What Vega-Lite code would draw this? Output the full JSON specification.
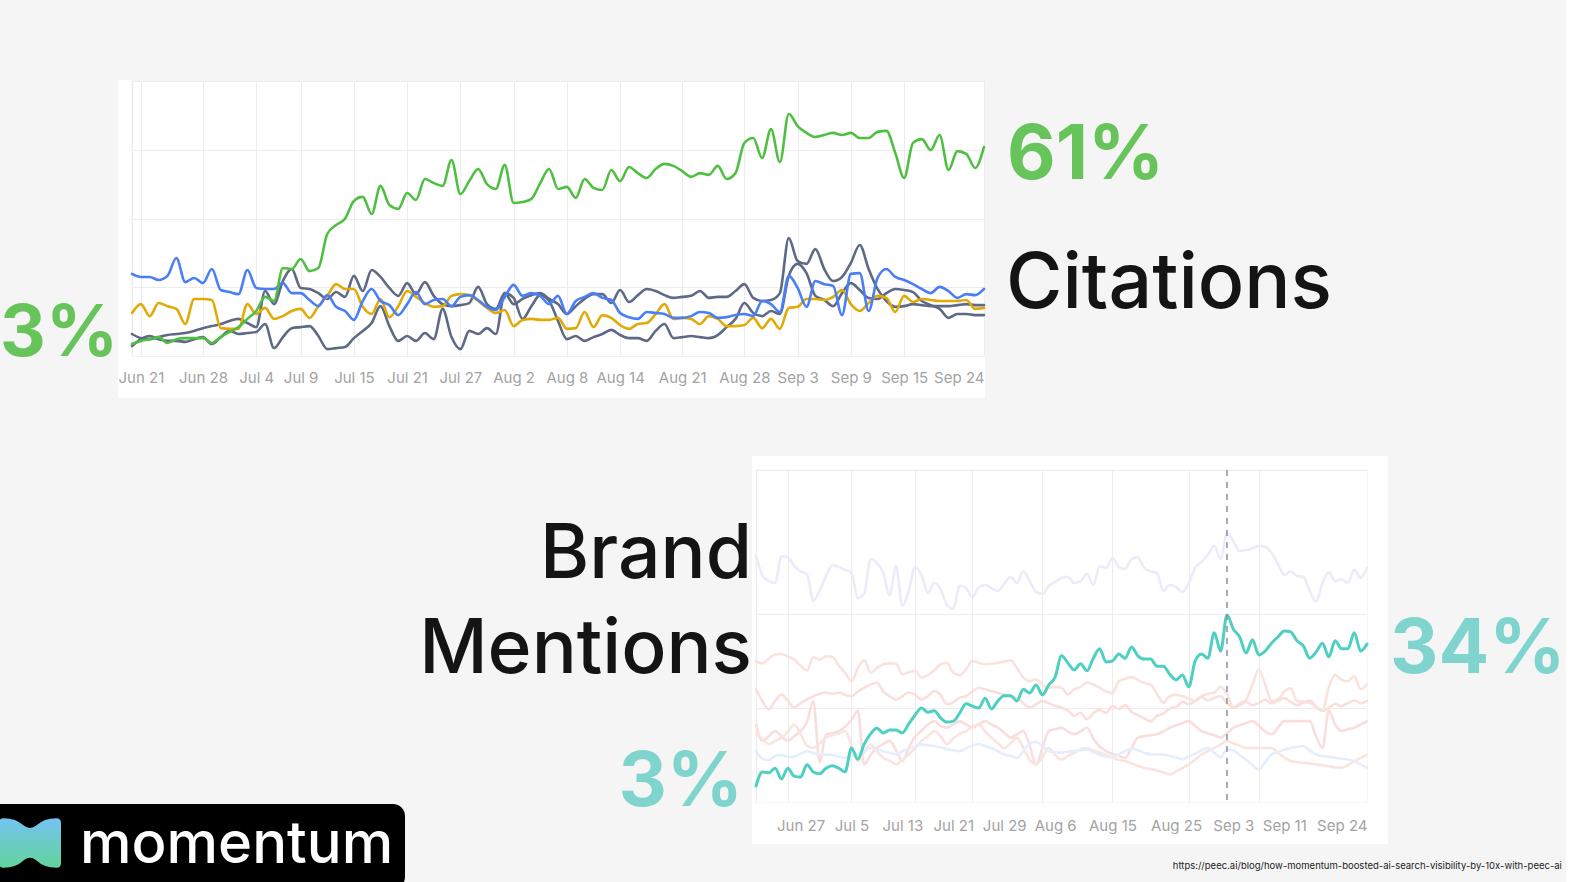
{
  "$schema": "https://vega.github.io/schema/vega-lite/v6.json",
  "background": "#f5f5f5",
  "padding": {"left": -53, "top": 79, "right": 0, "bottom": 0},
  "config": {"font": "Inter", "view": {"stroke": null}},
  "resolve": {"scale": {"color": "independent"}},
  "bounds": "flush",
  "spacing": 114,
  "datasets": {
    "main": [
      {"d":"2025-06-20","g":3.5,"b":23.9,"y":12.5,"s1":6.4,"s2":2.9,"t":3.4,"lav":52.3,"p1":30.0,"p2":24.0,"p3":16.5,"p4":14.4,"lb":10.8},
      {"d":"2025-06-21","g":4.4,"b":23.0,"y":15.1,"s1":5.2,"s2":4.9,"t":6.4,"lav":48.3,"p1":29.5,"p2":21.5,"p3":13.0,"p4":13.5,"lb":9.2},
      {"d":"2025-06-22","g":4.9,"b":23.0,"y":11.6,"s1":4.9,"s2":5.8,"t":6.2,"lav":47.0,"p1":30.5,"p2":19.7,"p3":14.0,"p4":12.3,"lb":8.9},
      {"d":"2025-06-23","g":5.5,"b":22.1,"y":15.4,"s1":5.5,"s2":4.9,"t":7.2,"lav":46.6,"p1":31.4,"p2":21.5,"p3":15.1,"p4":13.0,"lb":9.8},
      {"d":"2025-06-24","g":3.8,"b":23.3,"y":14.5,"s1":6.1,"s2":4.4,"t":4.9,"lav":52.3,"p1":31.5,"p2":22.9,"p3":14.0,"p4":13.7,"lb":10.0},
      {"d":"2025-06-25","g":4.9,"b":28.5,"y":13.7,"s1":6.4,"s2":4.4,"t":7.2,"lav":52.1,"p1":31.0,"p2":21.5,"p3":13.0,"p4":15.0,"lb":9.6},
      {"d":"2025-06-26","g":5.2,"b":21.5,"y":9.3,"s1":6.7,"s2":4.1,"t":5.5,"lav":50.2,"p1":30.3,"p2":20.1,"p3":14.0,"p4":16.5,"lb":9.6},
      {"d":"2025-06-27","g":5.2,"b":22.7,"y":16.6,"s1":7.3,"s2":4.9,"t":5.3,"lav":49.1,"p1":29.0,"p2":21.0,"p3":15.1,"p4":14.5,"lb":10.3},
      {"d":"2025-06-28","g":5.2,"b":21.2,"y":16.6,"s1":8.1,"s2":5.5,"t":7.9,"lav":48.5,"p1":28.0,"p2":21.8,"p3":17.0,"p4":12.0,"lb":10.8},
      {"d":"2025-06-29","g":3.8,"b":25.3,"y":16.3,"s1":8.7,"s2":3.5,"t":6.4,"lav":42.8,"p1":30.8,"p2":22.5,"p3":21.5,"p4":11.5,"lb":10.4},
      {"d":"2025-06-30","g":5.5,"b":19.2,"y":8.1,"s1":9.3,"s2":5.5,"t":6.0,"lav":44.9,"p1":30.3,"p2":23.0,"p3":8.5,"p4":12.5,"lb":10.1},
      {"d":"2025-07-01","g":7.0,"b":18.6,"y":7.9,"s1":10.2,"s2":7.3,"t":7.2,"lav":48.1,"p1":31.0,"p2":23.3,"p3":14.4,"p4":13.7,"lb":10.1},
      {"d":"2025-07-02","g":8.4,"b":18.0,"y":7.9,"s1":10.8,"s2":6.4,"t":7.7,"lav":50.4,"p1":30.9,"p2":23.0,"p3":14.6,"p4":14.2,"lb":10.0},
      {"d":"2025-07-03","g":10.8,"b":25.0,"y":15.1,"s1":9.6,"s2":6.7,"t":7.2,"lav":50.0,"p1":29.0,"p2":23.3,"p3":15.1,"p4":14.6,"lb":9.7},
      {"d":"2025-07-04","g":13.1,"b":19.8,"y":12.2,"s1":8.4,"s2":7.0,"t":6.4,"lav":49.4,"p1":27.5,"p2":22.8,"p3":16.0,"p4":15.1,"lb":9.4},
      {"d":"2025-07-05","g":17.2,"b":19.5,"y":14.0,"s1":18.9,"s2":9.3,"t":11.5,"lav":48.7,"p1":25.7,"p2":22.5,"p3":17.5,"p4":12.0,"lb":9.8},
      {"d":"2025-07-06","g":16.0,"b":19.5,"y":10.8,"s1":15.1,"s2":2.3,"t":9.1,"lav":43.4,"p1":28.5,"p2":23.5,"p3":19.4,"p4":8.7,"lb":10.1},
      {"d":"2025-07-07","g":25.6,"b":21.2,"y":11.6,"s1":21.8,"s2":5.5,"t":12.3,"lav":44.3,"p1":30.2,"p2":24.3,"p3":8.0,"p4":10.5,"lb":10.8},
      {"d":"2025-07-08","g":25.3,"b":18.3,"y":13.1,"s1":25.3,"s2":8.1,"t":14.5,"lav":51.7,"p1":27.5,"p2":25.0,"p3":10.0,"p4":12.3,"lb":11.5},
      {"d":"2025-07-09","g":28.2,"b":18.3,"y":13.7,"s1":19.8,"s2":8.4,"t":15.7,"lav":50.9,"p1":28.5,"p2":25.4,"p3":11.5,"p4":10.8,"lb":11.2},
      {"d":"2025-07-10","g":24.7,"b":16.3,"y":11.1,"s1":19.5,"s2":8.7,"t":14.7,"lav":48.7,"p1":29.3,"p2":23.5,"p3":12.3,"p4":9.4,"lb":10.8},
      {"d":"2025-07-11","g":25.6,"b":14.5,"y":14.5,"s1":18.3,"s2":5.8,"t":15.3,"lav":44.0,"p1":29.5,"p2":22.5,"p3":13.0,"p4":8.8,"lb":10.5},
      {"d":"2025-07-12","g":35.5,"b":17.7,"y":17.5,"s1":16.6,"s2":2.0,"t":15.3,"lav":50.2,"p1":29.4,"p2":21.8,"p3":11.0,"p4":8.0,"lb":10.1},
      {"d":"2025-07-13","g":38.1,"b":14.3,"y":20.9,"s1":18.6,"s2":2.3,"t":14.7,"lav":41.7,"p1":27.2,"p2":22.5,"p3":8.7,"p4":9.0,"lb":10.8},
      {"d":"2025-07-14","g":39.9,"b":13.1,"y":19.5,"s1":17.2,"s2":2.6,"t":16.6,"lav":44.9,"p1":27.6,"p2":23.3,"p3":11.5,"p4":10.1,"lb":11.4},
      {"d":"2025-07-15","g":45.1,"b":10.5,"y":19.5,"s1":23.3,"s2":5.2,"t":18.5,"lav":50.0,"p1":27.9,"p2":22.8,"p3":14.0,"p4":11.5,"lb":11.8},
      {"d":"2025-07-16","g":46.3,"b":16.0,"y":14.3,"s1":18.9,"s2":7.3,"t":20.0,"lav":48.3,"p1":26.5,"p2":21.8,"p3":15.1,"p4":13.0,"lb":12.2},
      {"d":"2025-07-17","g":41.3,"b":19.5,"y":12.2,"s1":25.0,"s2":9.6,"t":19.1,"lav":44.5,"p1":27.0,"p2":22.5,"p3":16.5,"p4":14.0,"lb":12.1},
      {"d":"2025-07-18","g":49.5,"b":16.0,"y":16.6,"s1":23.0,"s2":14.5,"t":19.4,"lav":46.6,"p1":28.0,"p2":23.6,"p3":17.2,"p4":15.1,"lb":11.9},
      {"d":"2025-07-19","g":43.9,"b":14.8,"y":11.3,"s1":19.8,"s2":8.7,"t":17.9,"lav":45.3,"p1":29.3,"p2":22.8,"p3":16.2,"p4":14.0,"lb":11.6},
      {"d":"2025-07-20","g":42.8,"b":11.9,"y":14.5,"s1":17.5,"s2":4.4,"t":17.0,"lav":41.9,"p1":29.6,"p2":20.8,"p3":15.8,"p4":12.3,"lb":11.2},
      {"d":"2025-07-21","g":47.4,"b":15.1,"y":18.9,"s1":21.2,"s2":5.8,"t":17.2,"lav":41.1,"p1":27.5,"p2":21.2,"p3":16.5,"p4":13.5,"lb":11.0},
      {"d":"2025-07-22","g":45.4,"b":18.6,"y":17.2,"s1":18.0,"s2":4.4,"t":18.9,"lav":46.0,"p1":27.0,"p2":22.2,"p3":17.2,"p4":14.5,"lb":10.8},
      {"d":"2025-07-23","g":51.5,"b":15.1,"y":15.4,"s1":21.5,"s2":6.7,"t":20.9,"lav":45.5,"p1":28.2,"p2":22.5,"p3":16.5,"p4":15.1,"lb":11.4},
      {"d":"2025-07-24","g":50.3,"b":16.3,"y":14.3,"s1":17.5,"s2":4.9,"t":20.4,"lav":43.6,"p1":30.0,"p2":23.5,"p3":15.8,"p4":16.0,"lb":12.0},
      {"d":"2025-07-25","g":49.5,"b":16.6,"y":14.5,"s1":15.1,"s2":13.7,"t":20.0,"lav":45.7,"p1":29.6,"p2":24.3,"p3":16.5,"p4":16.5,"lb":12.3},
      {"d":"2025-07-26","g":57.0,"b":14.5,"y":17.5,"s1":14.5,"s2":5.5,"t":22.1,"lav":46.2,"p1":29.3,"p2":24.0,"p3":17.2,"p4":15.0,"lb":11.9},
      {"d":"2025-07-27","g":47.1,"b":17.2,"y":18.0,"s1":14.8,"s2":2.0,"t":19.8,"lav":45.5,"p1":29.4,"p2":23.6,"p3":16.5,"p4":13.7,"lb":11.5},
      {"d":"2025-07-28","g":50.9,"b":17.7,"y":17.7,"s1":15.4,"s2":7.3,"t":21.5,"lav":44.9,"p1":29.6,"p2":23.2,"p3":15.8,"p4":12.5,"lb":10.8},
      {"d":"2025-07-29","g":54.4,"b":16.3,"y":16.0,"s1":20.1,"s2":6.4,"t":22.6,"lav":46.4,"p1":29.9,"p2":22.9,"p3":14.8,"p4":11.5,"lb":10.1},
      {"d":"2025-07-30","g":50.0,"b":14.3,"y":14.0,"s1":15.1,"s2":8.1,"t":22.6,"lav":47.9,"p1":30.1,"p2":22.5,"p3":13.7,"p4":12.5,"lb":9.8},
      {"d":"2025-07-31","g":48.6,"b":13.4,"y":12.5,"s1":13.7,"s2":6.4,"t":21.5,"lav":46.6,"p1":28.5,"p2":22.2,"p3":14.4,"p4":13.7,"lb":9.4},
      {"d":"2025-08-01","g":55.6,"b":17.2,"y":13.4,"s1":18.3,"s2":18.3,"t":24.0,"lav":49.1,"p1":26.5,"p2":21.0,"p3":15.1,"p4":11.5,"lb":10.8},
      {"d":"2025-08-02","g":44.5,"b":20.7,"y":8.7,"s1":15.1,"s2":16.9,"t":23.2,"lav":47.0,"p1":25.7,"p2":20.1,"p3":12.0,"p4":9.0,"lb":12.5},
      {"d":"2025-08-03","g":44.8,"b":17.5,"y":10.5,"s1":16.6,"s2":10.8,"t":24.9,"lav":44.7,"p1":26.1,"p2":20.8,"p3":8.0,"p4":8.0,"lb":12.8},
      {"d":"2025-08-04","g":45.7,"b":18.3,"y":10.8,"s1":17.7,"s2":14.5,"t":22.8,"lav":44.3,"p1":24.8,"p2":21.5,"p3":11.5,"p4":9.5,"lb":11.8},
      {"d":"2025-08-05","g":50.3,"b":17.5,"y":10.5,"s1":18.3,"s2":17.7,"t":24.9,"lav":46.0,"p1":24.3,"p2":21.0,"p3":15.1,"p4":11.5,"lb":10.8},
      {"d":"2025-08-06","g":54.4,"b":15.1,"y":10.5,"s1":16.6,"s2":16.0,"t":26.6,"lav":46.8,"p1":24.5,"p2":20.5,"p3":15.5,"p4":10.0,"lb":10.6},
      {"d":"2025-08-07","g":48.6,"b":17.5,"y":11.1,"s1":15.1,"s2":10.2,"t":31.1,"lav":47.7,"p1":24.3,"p2":20.1,"p3":15.8,"p4":9.0,"lb":10.5},
      {"d":"2025-08-08","g":49.2,"b":12.2,"y":7.9,"s1":12.2,"s2":4.9,"t":29.6,"lav":47.9,"p1":22.9,"p2":19.5,"p3":15.0,"p4":9.8,"lb":10.7},
      {"d":"2025-08-09","g":46.0,"b":16.0,"y":8.1,"s1":14.5,"s2":5.8,"t":28.1,"lav":46.6,"p1":24.0,"p2":18.3,"p3":14.4,"p4":10.5,"lb":10.9},
      {"d":"2025-08-10","g":51.5,"b":17.2,"y":12.8,"s1":16.6,"s2":4.4,"t":29.4,"lav":47.0,"p1":24.5,"p2":19.0,"p3":15.0,"p4":11.2,"lb":11.0},
      {"d":"2025-08-11","g":48.9,"b":18.3,"y":8.4,"s1":18.0,"s2":5.5,"t":27.9,"lav":48.5,"p1":25.4,"p2":17.6,"p3":15.8,"p4":11.5,"lb":11.2},
      {"d":"2025-08-12","g":48.3,"b":16.9,"y":11.9,"s1":18.0,"s2":6.4,"t":30.6,"lav":46.2,"p1":25.0,"p2":18.9,"p3":13.5,"p4":11.0,"lb":10.6},
      {"d":"2025-08-13","g":54.1,"b":16.3,"y":11.1,"s1":15.4,"s2":7.6,"t":32.6,"lav":50.2,"p1":24.3,"p2":19.6,"p3":11.8,"p4":10.5,"lb":10.0},
      {"d":"2025-08-14","g":50.9,"b":12.5,"y":9.0,"s1":19.2,"s2":6.1,"t":29.8,"lav":49.8,"p1":23.5,"p2":19.0,"p3":10.8,"p4":10.0,"lb":9.6},
      {"d":"2025-08-15","g":55.0,"b":11.3,"y":7.9,"s1":15.7,"s2":5.2,"t":30.0,"lav":51.9,"p1":23.2,"p2":20.4,"p3":10.2,"p4":9.5,"lb":9.5},
      {"d":"2025-08-16","g":53.2,"b":10.8,"y":9.3,"s1":17.7,"s2":5.2,"t":31.5,"lav":50.0,"p1":25.7,"p2":19.8,"p3":9.8,"p4":9.0,"lb":10.2},
      {"d":"2025-08-17","g":51.8,"b":12.8,"y":9.6,"s1":19.5,"s2":4.4,"t":30.6,"lav":49.6,"p1":26.2,"p2":20.6,"p3":9.4,"p4":8.7,"lb":10.8},
      {"d":"2025-08-18","g":54.4,"b":12.5,"y":12.2,"s1":18.9,"s2":7.3,"t":33.0,"lav":51.7,"p1":26.6,"p2":19.2,"p3":11.5,"p4":8.2,"lb":11.4},
      {"d":"2025-08-19","g":55.9,"b":12.2,"y":15.1,"s1":17.7,"s2":9.3,"t":31.1,"lav":52.1,"p1":26.0,"p2":18.5,"p3":13.7,"p4":7.7,"lb":11.0},
      {"d":"2025-08-20","g":55.3,"b":11.1,"y":10.8,"s1":16.9,"s2":5.2,"t":30.4,"lav":49.8,"p1":25.3,"p2":17.8,"p3":14.0,"p4":7.3,"lb":10.5},
      {"d":"2025-08-21","g":53.8,"b":11.1,"y":11.1,"s1":17.2,"s2":5.5,"t":30.4,"lav":49.1,"p1":25.0,"p2":17.2,"p3":14.2,"p4":7.0,"lb":10.1},
      {"d":"2025-08-22","g":52.1,"b":11.6,"y":10.8,"s1":17.5,"s2":5.8,"t":28.9,"lav":48.7,"p1":23.0,"p2":18.3,"p3":14.4,"p4":6.7,"lb":10.1},
      {"d":"2025-08-23","g":53.2,"b":12.8,"y":9.3,"s1":18.9,"s2":5.5,"t":28.9,"lav":44.9,"p1":21.1,"p2":18.8,"p3":15.0,"p4":6.3,"lb":10.1},
      {"d":"2025-08-24","g":52.7,"b":12.5,"y":11.6,"s1":16.9,"s2":5.2,"t":27.2,"lav":46.2,"p1":22.5,"p2":19.9,"p3":15.8,"p4":5.9,"lb":9.8},
      {"d":"2025-08-25","g":55.3,"b":11.1,"y":10.8,"s1":17.2,"s2":6.1,"t":26.0,"lav":45.7,"p1":22.8,"p2":20.2,"p3":16.3,"p4":6.5,"lb":9.5},
      {"d":"2025-08-26","g":51.5,"b":11.3,"y":8.7,"s1":17.2,"s2":8.4,"t":27.0,"lav":44.7,"p1":22.5,"p2":21.3,"p3":16.8,"p4":7.2,"lb":9.1},
      {"d":"2025-08-27","g":53.2,"b":11.9,"y":8.7,"s1":18.9,"s2":10.8,"t":24.5,"lav":46.6,"p1":22.0,"p2":20.8,"p3":17.2,"p4":8.0,"lb":9.7},
      {"d":"2025-08-28","g":62.0,"b":12.2,"y":9.0,"s1":20.9,"s2":15.4,"t":30.0,"lav":49.8,"p1":21.5,"p2":21.5,"p3":16.2,"p4":9.0,"lb":10.3},
      {"d":"2025-08-29","g":63.4,"b":11.6,"y":11.1,"s1":16.9,"s2":12.5,"t":31.5,"lav":51.1,"p1":22.5,"p2":22.3,"p3":15.1,"p4":10.1,"lb":11.0},
      {"d":"2025-08-30","g":57.6,"b":16.0,"y":8.1,"s1":16.0,"s2":11.6,"t":30.6,"lav":52.6,"p1":23.0,"p2":21.6,"p3":14.6,"p4":10.8,"lb":11.5},
      {"d":"2025-08-31","g":66.0,"b":15.1,"y":10.8,"s1":16.3,"s2":13.1,"t":36.0,"lav":54.5,"p1":23.3,"p2":22.2,"p3":14.2,"p4":11.5,"lb":10.5},
      {"d":"2025-09-01","g":56.4,"b":12.8,"y":7.9,"s1":18.3,"s2":12.2,"t":32.1,"lav":51.7,"p1":24.5,"p2":22.5,"p3":13.7,"p4":12.2,"lb":9.5},
      {"d":"2025-09-02","g":70.4,"b":23.3,"y":14.0,"s1":34.3,"s2":23.3,"t":39.8,"lav":57.2,"p1":23.0,"p2":21.0,"p3":14.6,"p4":13.0,"lb":11.2},
      {"d":"2025-09-03","g":66.9,"b":19.8,"y":14.3,"s1":27.6,"s2":26.8,"t":36.8,"lav":55.5,"p1":20.1,"p2":20.1,"p3":15.8,"p4":12.5,"lb":11.0},
      {"d":"2025-09-04","g":64.9,"b":14.3,"y":16.6,"s1":26.8,"s2":24.1,"t":35.1,"lav":53.4,"p1":21.0,"p2":20.5,"p3":16.3,"p4":12.0,"lb":10.0},
      {"d":"2025-09-05","g":63.7,"b":21.8,"y":16.6,"s1":31.1,"s2":17.5,"t":31.7,"lav":53.6,"p1":21.8,"p2":21.3,"p3":16.8,"p4":11.5,"lb":9.0},
      {"d":"2025-09-06","g":64.3,"b":20.9,"y":16.3,"s1":25.3,"s2":16.3,"t":34.5,"lav":54.0,"p1":25.0,"p2":20.6,"p3":17.2,"p4":11.5,"lb":7.8},
      {"d":"2025-09-07","g":64.9,"b":20.4,"y":17.2,"s1":21.8,"s2":14.5,"t":31.3,"lav":54.5,"p1":28.2,"p2":21.1,"p3":16.2,"p4":11.5,"lb":6.9},
      {"d":"2025-09-08","g":64.3,"b":11.9,"y":19.2,"s1":23.0,"s2":18.3,"t":32.1,"lav":54.3,"p1":25.0,"p2":21.8,"p3":15.0,"p4":11.5,"lb":8.5},
      {"d":"2025-09-09","g":64.9,"b":23.9,"y":15.1,"s1":27.1,"s2":21.2,"t":33.8,"lav":53.0,"p1":21.5,"p2":21.0,"p3":14.4,"p4":11.5,"lb":10.1},
      {"d":"2025-09-10","g":63.4,"b":24.1,"y":13.1,"s1":32.3,"s2":19.2,"t":35.1,"lav":50.6,"p1":21.8,"p2":21.5,"p3":15.8,"p4":10.5,"lb":10.6},
      {"d":"2025-09-11","g":63.4,"b":13.1,"y":15.4,"s1":25.3,"s2":16.9,"t":36.4,"lav":48.3,"p1":23.5,"p2":22.1,"p3":17.2,"p4":9.5,"lb":11.1},
      {"d":"2025-09-12","g":65.2,"b":22.7,"y":17.5,"s1":19.5,"s2":16.6,"t":36.2,"lav":49.1,"p1":24.2,"p2":21.3,"p3":17.2,"p4":8.7,"lb":11.5},
      {"d":"2025-09-13","g":65.5,"b":25.3,"y":16.9,"s1":16.0,"s2":18.3,"t":34.3,"lav":48.1,"p1":21.5,"p2":20.6,"p3":17.2,"p4":8.5,"lb":11.7},
      {"d":"2025-09-14","g":59.1,"b":23.0,"y":12.8,"s1":14.3,"s2":19.5,"t":33.2,"lav":47.9,"p1":21.3,"p2":21.1,"p3":17.2,"p4":8.3,"lb":11.9},
      {"d":"2025-09-15","g":51.8,"b":22.1,"y":17.5,"s1":14.5,"s2":19.2,"t":30.6,"lav":44.9,"p1":21.1,"p2":21.6,"p3":17.2,"p4":8.2,"lb":11.0},
      {"d":"2025-09-16","g":62.0,"b":20.9,"y":15.7,"s1":15.1,"s2":18.6,"t":31.9,"lav":42.6,"p1":20.2,"p2":20.3,"p3":14.0,"p4":8.0,"lb":10.1},
      {"d":"2025-09-17","g":63.1,"b":19.5,"y":16.6,"s1":14.8,"s2":16.0,"t":33.8,"lav":46.6,"p1":19.4,"p2":19.4,"p3":11.5,"p4":7.8,"lb":9.8},
      {"d":"2025-09-18","g":59.9,"b":18.3,"y":16.3,"s1":14.5,"s2":14.8,"t":30.9,"lav":48.9,"p1":24.5,"p2":20.0,"p3":19.4,"p4":7.6,"lb":9.6},
      {"d":"2025-09-19","g":64.3,"b":20.1,"y":16.0,"s1":14.5,"s2":13.7,"t":34.3,"lav":47.0,"p1":27.0,"p2":20.9,"p3":16.5,"p4":7.4,"lb":9.4},
      {"d":"2025-09-20","g":54.1,"b":18.9,"y":16.0,"s1":14.5,"s2":11.1,"t":32.6,"lav":47.4,"p1":26.0,"p2":20.4,"p3":15.1,"p4":7.3,"lb":9.2},
      {"d":"2025-09-21","g":59.6,"b":16.9,"y":16.0,"s1":14.8,"s2":12.2,"t":32.6,"lav":46.6,"p1":25.7,"p2":21.0,"p3":15.5,"p4":7.8,"lb":9.0},
      {"d":"2025-09-22","g":58.8,"b":18.0,"y":16.3,"s1":15.1,"s2":12.2,"t":36.0,"lav":49.4,"p1":26.8,"p2":21.6,"p3":15.8,"p4":8.7,"lb":8.7},
      {"d":"2025-09-23","g":54.7,"b":17.7,"y":13.7,"s1":14.8,"s2":11.9,"t":32.1,"lav":47.7,"p1":24.0,"p2":21.0,"p3":16.5,"p4":9.4,"lb":8.0},
      {"d":"2025-09-24","g":60.8,"b":19.5,"y":14.0,"s1":14.8,"s2":11.9,"t":33.6,"lav":49.8,"p1":25.0,"p2":21.5,"p3":17.2,"p4":10.1,"lb":7.3}
    ]
  },
  "vconcat": [
    {
      "width": 852,
      "height": 275,
      "view": {"fill": "white", "stroke": "#ececec", "strokeWidth": 1},
      "resolve": {"axis": {"x": "independent", "y": "independent"}},
      "layer": [
        {
          "data": {"values": [{}]},
          "mark": {"type": "rect", "fill": "white"},
          "encoding": {
            "x": {"datum": {"year": 2025, "month": 6, "date": 18, "hours": 10, "utc": true}, "type": "temporal", "scale": {"type": "utc", "nice": false, "domain": [{"year": 2025, "month": 6, "date": 20, "utc": true}, {"year": 2025, "month": 9, "date": 24, "utc": true}]}, "axis": null},
            "x2": {"datum": {"year": 2025, "month": 6, "date": 19, "hours": 22, "utc": true}},
            "y": {"datum": 80.3, "type": "quantitative", "scale": {"domain": [0, 80], "nice": false, "zero": false}, "axis": null},
            "y2": {"datum": -12.2}
          }
        },
        {
          "data": {"values": [{}]},
          "mark": {"type": "rect", "fill": "white"},
          "encoding": {
            "x": {
              "datum": {"year": 2025, "month": 6, "date": 18, "hours": 10, "utc": true}, "type": "temporal",
              "scale": {"type": "utc", "nice": false, "domain": [{"year": 2025, "month": 6, "date": 20, "utc": true}, {"year": 2025, "month": 9, "date": 24, "utc": true}]},
              "axis": {
                "orient": "bottom", "title": null, "grid": true, "gridColor": "#ececec", "gridWidth": 1, "labels": false, "ticks": false, "domain": false, "zindex": 0,
                "values": [
                  {"year": 2025, "month": 6, "date": 21, "utc": true},
                  {"year": 2025, "month": 6, "date": 28, "utc": true},
                  {"year": 2025, "month": 7, "date": 4, "utc": true},
                  {"year": 2025, "month": 7, "date": 9, "utc": true},
                  {"year": 2025, "month": 7, "date": 15, "utc": true},
                  {"year": 2025, "month": 7, "date": 21, "utc": true},
                  {"year": 2025, "month": 7, "date": 27, "utc": true},
                  {"year": 2025, "month": 8, "date": 2, "utc": true},
                  {"year": 2025, "month": 8, "date": 8, "utc": true},
                  {"year": 2025, "month": 8, "date": 14, "utc": true},
                  {"year": 2025, "month": 8, "date": 21, "utc": true},
                  {"year": 2025, "month": 8, "date": 28, "utc": true},
                  {"year": 2025, "month": 9, "date": 3, "utc": true},
                  {"year": 2025, "month": 9, "date": 9, "utc": true},
                  {"year": 2025, "month": 9, "date": 15, "utc": true}
                ]
              }
            },
            "x2": {"datum": {"year": 2025, "month": 9, "date": 24, "hours": 3, "utc": true}},
            "y": {
              "datum": -0.2, "type": "quantitative",
              "scale": {"domain": [0, 80], "nice": false, "zero": false},
              "axis": {"orient": "left", "values": [20, 40, 60], "grid": true, "gridColor": "#ececec", "labels": false, "ticks": false, "domain": false, "title": null, "zindex": 0}
            },
            "y2": {"datum": -12.2}
          }
        },
        {
          "data": {"name": "main"},
          "transform": [{"fold": ["s2", "s1", "y", "b", "g"], "as": ["series", "value"]}],
          "mark": {"type": "line", "interpolate": "monotone", "strokeWidth": 2.6, "strokeCap": "round", "strokeJoin": "round"},
          "encoding": {
            "x": {
              "field": "d", "type": "temporal",
              "scale": {"type": "utc", "nice": false, "domain": [{"year": 2025, "month": 6, "date": 20, "utc": true}, {"year": 2025, "month": 9, "date": 24, "utc": true}]},
              "axis": {
                "orient": "bottom", "title": null, "format": "%b %-d", "grid": false,
                "ticks": false, "domain": false, "labelColor": "#a3a3a3", "labelFont": "Inter", "labelFontSize": 15,
                "labelPadding": 14, "labelFlush": true, "labelOverlap": false, "zindex": 1,
                "values": [
                  {"year": 2025, "month": 6, "date": 21, "utc": true},
                  {"year": 2025, "month": 6, "date": 28, "utc": true},
                  {"year": 2025, "month": 7, "date": 4, "utc": true},
                  {"year": 2025, "month": 7, "date": 9, "utc": true},
                  {"year": 2025, "month": 7, "date": 15, "utc": true},
                  {"year": 2025, "month": 7, "date": 21, "utc": true},
                  {"year": 2025, "month": 7, "date": 27, "utc": true},
                  {"year": 2025, "month": 8, "date": 2, "utc": true},
                  {"year": 2025, "month": 8, "date": 8, "utc": true},
                  {"year": 2025, "month": 8, "date": 14, "utc": true},
                  {"year": 2025, "month": 8, "date": 21, "utc": true},
                  {"year": 2025, "month": 8, "date": 28, "utc": true},
                  {"year": 2025, "month": 9, "date": 3, "utc": true},
                  {"year": 2025, "month": 9, "date": 9, "utc": true},
                  {"year": 2025, "month": 9, "date": 15, "utc": true},
                  {"year": 2025, "month": 9, "date": 24, "utc": true}
                ]
              }
            },
            "y": {"field": "value", "type": "quantitative", "scale": {"domain": [0, 80], "nice": false, "zero": false}, "axis": null},
            "color": {
              "field": "series", "type": "nominal", "legend": null,
              "scale": {"domain": ["s2", "s1", "y", "b", "g"], "range": ["#5e6985", "#5e6985", "#e2aa08", "#4a7ef6", "#4fbf42"]}
            }
          }
        },
        {
          "data": {"values": [{}]},
          "mark": {"type": "text", "text": "3%", "align": "right", "baseline": "alphabetic", "dx": -14, "font": "Inter", "fontSize": 71, "fontWeight": 700, "color": "#67c45b"},
          "encoding": {
            "x": {"datum": {"year": 2025, "month": 6, "date": 20, "utc": true}, "type": "temporal", "scale": {"type": "utc", "nice": false, "domain": [{"year": 2025, "month": 6, "date": 20, "utc": true}, {"year": 2025, "month": 9, "date": 24, "utc": true}]}, "axis": null},
            "y": {"datum": 0, "type": "quantitative", "scale": {"domain": [0, 80], "nice": false, "zero": false}, "axis": null}
          }
        },
        {
          "data": {"values": [{}]},
          "mark": {"type": "text", "text": "61%", "align": "left", "baseline": "alphabetic", "dx": 23, "font": "Inter", "fontSize": 75, "fontWeight": 700, "color": "#67c45b"},
          "encoding": {
            "x": {"datum": {"year": 2025, "month": 9, "date": 24, "utc": true}, "type": "temporal", "scale": {"type": "utc", "nice": false, "domain": [{"year": 2025, "month": 6, "date": 20, "utc": true}, {"year": 2025, "month": 9, "date": 24, "utc": true}]}, "axis": null},
            "y": {"datum": 51.5, "type": "quantitative", "scale": {"domain": [0, 80], "nice": false, "zero": false}, "axis": null}
          }
        },
        {
          "data": {"values": [{}]},
          "mark": {"type": "text", "text": "Citations", "align": "left", "baseline": "alphabetic", "dx": 22, "font": "Inter", "fontSize": 77, "fontWeight": 500, "color": "#141414"},
          "encoding": {
            "x": {"datum": {"year": 2025, "month": 9, "date": 24, "utc": true}, "type": "temporal", "scale": {"type": "utc", "nice": false, "domain": [{"year": 2025, "month": 6, "date": 20, "utc": true}, {"year": 2025, "month": 9, "date": 24, "utc": true}]}, "axis": null},
            "y": {"datum": 14.0, "type": "quantitative", "scale": {"domain": [0, 80], "nice": false, "zero": false}, "axis": null}
          }
        }
      ]
    },
    {
      "bounds": "flush",
      "spacing": 0,
      "resolve": {"scale": {"color": "independent"}},
      "hconcat": [
        {
          "width": 624,
          "height": 1,
          "data": {"values": []},
          "mark": {"type": "rect", "opacity": 0}
        },
        {
          "width": 611,
          "height": 332,
          "view": {"fill": "white", "stroke": "#ececec", "strokeWidth": 1},
          "resolve": {"axis": {"x": "independent", "y": "independent"}},
          "layer": [
            {
              "data": {"values": [{}]},
              "mark": {"type": "rect", "fill": "white"},
              "encoding": {
                "x": {
                  "datum": {"year": 2025, "month": 6, "date": 19, "hours": 9, "utc": true}, "type": "temporal",
                  "scale": {"type": "utc", "nice": false, "domain": [{"year": 2025, "month": 6, "date": 20, "utc": true}, {"year": 2025, "month": 9, "date": 24, "utc": true}]},
                  "axis": {
                    "orient": "bottom", "title": null, "grid": true, "gridColor": "#ececec", "gridWidth": 1, "labels": false, "ticks": false, "domain": false, "zindex": 0,
                    "values": [
                      {"year": 2025, "month": 6, "date": 25, "utc": true},
                      {"year": 2025, "month": 7, "date": 5, "utc": true},
                      {"year": 2025, "month": 7, "date": 15, "utc": true},
                      {"year": 2025, "month": 7, "date": 24, "utc": true},
                      {"year": 2025, "month": 8, "date": 4, "utc": true},
                      {"year": 2025, "month": 8, "date": 15, "utc": true},
                      {"year": 2025, "month": 8, "date": 27, "utc": true},
                      {"year": 2025, "month": 9, "date": 7, "utc": true}
                    ]
                  }
                },
                "x2": {"datum": {"year": 2025, "month": 9, "date": 27, "hours": 7, "utc": true}},
                "y": {
                  "datum": 73.6, "type": "quantitative",
                  "scale": {"domain": [0, 70.64], "nice": false, "zero": false},
                  "axis": {"orient": "left", "values": [20, 40], "grid": true, "gridColor": "#ececec", "labels": false, "ticks": false, "domain": false, "title": null, "zindex": 0}
                },
                "y2": {"datum": 70.72}
              }
            },
            {
              "data": {"values": [{}]},
              "mark": {"type": "rect", "fill": "white"},
              "encoding": {
                "x": {"datum": {"year": 2025, "month": 6, "date": 19, "hours": 9, "utc": true}, "type": "temporal", "scale": {"type": "utc", "nice": false, "domain": [{"year": 2025, "month": 6, "date": 20, "utc": true}, {"year": 2025, "month": 9, "date": 24, "utc": true}]}, "axis": null},
                "x2": {"datum": {"year": 2025, "month": 9, "date": 27, "hours": 7, "utc": true}},
                "y": {"datum": -0.12, "type": "quantitative", "scale": {"domain": [0, 70.64], "nice": false, "zero": false}, "axis": null},
                "y2": {"datum": -8.94}
              }
            },
            {
              "data": {"values": [{}]},
              "mark": {"type": "rect", "fill": "white"},
              "encoding": {
                "x": {"datum": {"year": 2025, "month": 6, "date": 19, "hours": 9, "utc": true}, "type": "temporal", "scale": {"type": "utc", "nice": false, "domain": [{"year": 2025, "month": 6, "date": 20, "utc": true}, {"year": 2025, "month": 9, "date": 24, "utc": true}]}, "axis": null},
                "x2": {"datum": {"year": 2025, "month": 6, "date": 19, "hours": 22, "utc": true}},
                "y": {"datum": 73.6, "type": "quantitative", "scale": {"domain": [0, 70.64], "nice": false, "zero": false}, "axis": null},
                "y2": {"datum": -8.94}
              }
            },
            {
              "data": {"values": [{}]},
              "mark": {"type": "rect", "fill": "white"},
              "encoding": {
                "x": {"datum": {"year": 2025, "month": 9, "date": 24, "hours": 2, "utc": true}, "type": "temporal", "scale": {"type": "utc", "nice": false, "domain": [{"year": 2025, "month": 6, "date": 20, "utc": true}, {"year": 2025, "month": 9, "date": 24, "utc": true}]}, "axis": null},
                "x2": {"datum": {"year": 2025, "month": 9, "date": 27, "hours": 7, "utc": true}},
                "y": {"datum": 73.6, "type": "quantitative", "scale": {"domain": [0, 70.64], "nice": false, "zero": false}, "axis": null},
                "y2": {"datum": -8.94}
              }
            },
            {
              "data": {"name": "main"},
              "transform": [{"fold": ["lav", "p1", "p2", "p3", "p4", "lb"], "as": ["bseries", "bvalue"]}],
              "mark": {"type": "line", "interpolate": "monotone", "strokeWidth": 2.6, "strokeCap": "round", "strokeJoin": "round"},
              "encoding": {
                "x": {"field": "d", "type": "temporal", "scale": {"type": "utc", "nice": false, "domain": [{"year": 2025, "month": 6, "date": 20, "utc": true}, {"year": 2025, "month": 9, "date": 24, "utc": true}]}, "axis": null},
                "y": {"field": "bvalue", "type": "quantitative", "scale": {"domain": [0, 70.64], "nice": false, "zero": false}, "axis": null},
                "color": {
                  "field": "bseries", "type": "nominal", "legend": null,
                  "scale": {"domain": ["lav", "p1", "p2", "p3", "p4", "lb"], "range": ["#ecebfa", "#f9e3de", "#f9e0dc", "#f8dedd", "#f9e4e0", "#e6eefb"]}
                }
              }
            },
            {
              "data": {"name": "main"},
              "mark": {"type": "line", "interpolate": "monotone", "strokeWidth": 3, "strokeCap": "round", "strokeJoin": "round", "color": "#4dcfc2"},
              "encoding": {
                "x": {
                  "field": "d", "type": "temporal",
                  "scale": {"type": "utc", "nice": false, "domain": [{"year": 2025, "month": 6, "date": 20, "utc": true}, {"year": 2025, "month": 9, "date": 24, "utc": true}]},
                  "axis": {
                    "orient": "bottom", "title": null, "format": "%b %-d", "grid": false, "ticks": false, "domain": false,
                    "labelColor": "#a3a3a3", "labelFont": "Inter", "labelFontSize": 15, "labelPadding": 16,
                    "labelFlush": true, "labelOverlap": false, "zindex": 1,
                    "values": [
                      {"year": 2025, "month": 6, "date": 27, "utc": true},
                      {"year": 2025, "month": 7, "date": 5, "utc": true},
                      {"year": 2025, "month": 7, "date": 13, "utc": true},
                      {"year": 2025, "month": 7, "date": 21, "utc": true},
                      {"year": 2025, "month": 7, "date": 29, "utc": true},
                      {"year": 2025, "month": 8, "date": 6, "utc": true},
                      {"year": 2025, "month": 8, "date": 15, "utc": true},
                      {"year": 2025, "month": 8, "date": 25, "utc": true},
                      {"year": 2025, "month": 9, "date": 3, "utc": true},
                      {"year": 2025, "month": 9, "date": 11, "utc": true},
                      {"year": 2025, "month": 9, "date": 24, "utc": true}
                    ]
                  }
                },
                "y": {"field": "t", "type": "quantitative", "scale": {"domain": [0, 70.64], "nice": false, "zero": false}, "axis": null}
              }
            },
            {
              "data": {"values": [{}]},
              "mark": {"type": "rule", "color": "#8e8ea6", "strokeDash": [6, 6], "strokeWidth": 1.5},
              "encoding": {
                "x": {"datum": {"year": 2025, "month": 9, "date": 2, "utc": true}, "type": "temporal", "scale": {"type": "utc", "nice": false, "domain": [{"year": 2025, "month": 6, "date": 20, "utc": true}, {"year": 2025, "month": 9, "date": 24, "utc": true}]}, "axis": null}
              }
            },
            {
              "data": {"values": [{}]},
              "mark": {"type": "text", "text": "34%", "align": "left", "baseline": "alphabetic", "dx": 23, "font": "Inter", "fontSize": 75, "fontWeight": 700, "color": "#7fd5ce"},
              "encoding": {
                "x": {"datum": {"year": 2025, "month": 9, "date": 24, "utc": true}, "type": "temporal", "scale": {"type": "utc", "nice": false, "domain": [{"year": 2025, "month": 6, "date": 20, "utc": true}, {"year": 2025, "month": 9, "date": 24, "utc": true}]}, "axis": null},
                "y": {"datum": 27.45, "type": "quantitative", "scale": {"domain": [0, 70.64], "nice": false, "zero": false}, "axis": null}
              }
            },
            {
              "data": {"values": [{}]},
              "mark": {"type": "text", "text": "3%", "align": "right", "baseline": "alphabetic", "dx": -13, "font": "Inter", "fontSize": 75, "fontWeight": 700, "color": "#7fd5ce"},
              "encoding": {
                "x": {"datum": {"year": 2025, "month": 6, "date": 20, "utc": true}, "type": "temporal", "scale": {"type": "utc", "nice": false, "domain": [{"year": 2025, "month": 6, "date": 20, "utc": true}, {"year": 2025, "month": 9, "date": 24, "utc": true}]}, "axis": null},
                "y": {"datum": -0.85, "type": "quantitative", "scale": {"domain": [0, 70.64], "nice": false, "zero": false}, "axis": null}
              }
            },
            {
              "data": {"values": [{}]},
              "mark": {"type": "text", "text": "Brand", "align": "right", "baseline": "alphabetic", "dx": -4, "font": "Inter", "fontSize": 75, "fontWeight": 500, "color": "#141414"},
              "encoding": {
                "x": {"datum": {"year": 2025, "month": 6, "date": 20, "utc": true}, "type": "temporal", "scale": {"type": "utc", "nice": false, "domain": [{"year": 2025, "month": 6, "date": 20, "utc": true}, {"year": 2025, "month": 9, "date": 24, "utc": true}]}, "axis": null},
                "y": {"datum": 47.66, "type": "quantitative", "scale": {"domain": [0, 70.64], "nice": false, "zero": false}, "axis": null}
              }
            },
            {
              "data": {"values": [{}]},
              "mark": {"type": "text", "text": "Mentions", "align": "right", "baseline": "alphabetic", "dx": -4, "font": "Inter", "fontSize": 75, "fontWeight": 500, "color": "#141414"},
              "encoding": {
                "x": {"datum": {"year": 2025, "month": 6, "date": 20, "utc": true}, "type": "temporal", "scale": {"type": "utc", "nice": false, "domain": [{"year": 2025, "month": 6, "date": 20, "utc": true}, {"year": 2025, "month": 9, "date": 24, "utc": true}]}, "axis": null},
                "y": {"datum": 27.45, "type": "quantitative", "scale": {"domain": [0, 70.64], "nice": false, "zero": false}, "axis": null}
              }
            },
            {
              "data": {"values": [{}]},
              "mark": {"type": "rect", "fill": "#000000", "cornerRadiusTopRight": 12, "cornerRadiusBottomRight": 12},
              "encoding": {
                "x": {"datum": {"year": 2025, "month": 2, "date": 13, "utc": true}, "type": "temporal", "scale": {"type": "utc", "nice": false, "domain": [{"year": 2025, "month": 6, "date": 20, "utc": true}, {"year": 2025, "month": 9, "date": 24, "utc": true}]}, "axis": null},
                "x2": {"datum": {"year": 2025, "month": 4, "date": 25, "hours": 20, "minutes": 24, "utc": true}},
                "y": {"datum": -0.43, "type": "quantitative", "scale": {"domain": [0, 70.64], "nice": false, "zero": false}, "axis": null},
                "y2": {"datum": -18.5}
              }
            },
            {
              "data": {"values": [{}]},
              "mark": {
                "type": "point", "filled": true, "size": 3844, "strokeWidth": 0, "opacity": 1,
                "shape": "M -0.85 -0.8 Q -0.45 -0.8 -0.2 -0.56 Q 0 -0.4 0.2 -0.56 Q 0.45 -0.8 0.85 -0.8 Q 1 -0.8 1 -0.65 L 1 0.65 Q 1 0.8 0.85 0.8 Q 0.45 0.8 0.2 0.56 Q 0 0.4 -0.2 0.56 Q -0.45 0.8 -0.85 0.8 Q -1 0.8 -1 0.65 L -1 -0.65 Q -1 -0.8 -0.85 -0.8 Z",
                "fill": {"gradient": "linear", "x1": 0, "y1": 0, "x2": 0, "y2": 1, "stops": [{"offset": 0, "color": "#74c3f0"}, {"offset": 1, "color": "#62d49c"}]}
              },
              "encoding": {
                "x": {"datum": {"year": 2025, "month": 2, "date": 25, "hours": 22, "minutes": 19, "utc": true}, "type": "temporal", "scale": {"type": "utc", "nice": false, "domain": [{"year": 2025, "month": 6, "date": 20, "utc": true}, {"year": 2025, "month": 9, "date": 24, "utc": true}]}, "axis": null},
                "y": {"datum": -8.72, "type": "quantitative", "scale": {"domain": [0, 70.64], "nice": false, "zero": false}, "axis": null}
              }
            },
            {
              "data": {"values": [{}]},
              "mark": {"type": "text", "text": "momentum", "align": "left", "baseline": "alphabetic", "font": "Inter", "fontSize": 58, "fontWeight": 500, "color": "#ffffff"},
              "encoding": {
                "x": {"datum": {"year": 2025, "month": 3, "date": 5, "hours": 19, "utc": true}, "type": "temporal", "scale": {"type": "utc", "nice": false, "domain": [{"year": 2025, "month": 6, "date": 20, "utc": true}, {"year": 2025, "month": 9, "date": 24, "utc": true}]}, "axis": null},
                "y": {"datum": -12.98, "type": "quantitative", "scale": {"domain": [0, 70.64], "nice": false, "zero": false}, "axis": null}
              }
            },
            {
              "data": {"values": [{}]},
              "mark": {"type": "text", "text": "https://peec.ai/blog/how-momentum-boosted-ai-search-visibility-by-10x-with-peec-ai", "align": "right", "baseline": "alphabetic", "font": "Inter", "fontSize": 9.5, "color": "#222222"},
              "encoding": {
                "x": {"datum": {"year": 2025, "month": 10, "date": 24, "hours": 15, "utc": true}, "type": "temporal", "scale": {"type": "utc", "nice": false, "domain": [{"year": 2025, "month": 6, "date": 20, "utc": true}, {"year": 2025, "month": 9, "date": 24, "utc": true}]}, "axis": null},
                "y": {"datum": -14.26, "type": "quantitative", "scale": {"domain": [0, 70.64], "nice": false, "zero": false}, "axis": null}
              }
            }
          ]
        }
      ]
    }
  ]
}
